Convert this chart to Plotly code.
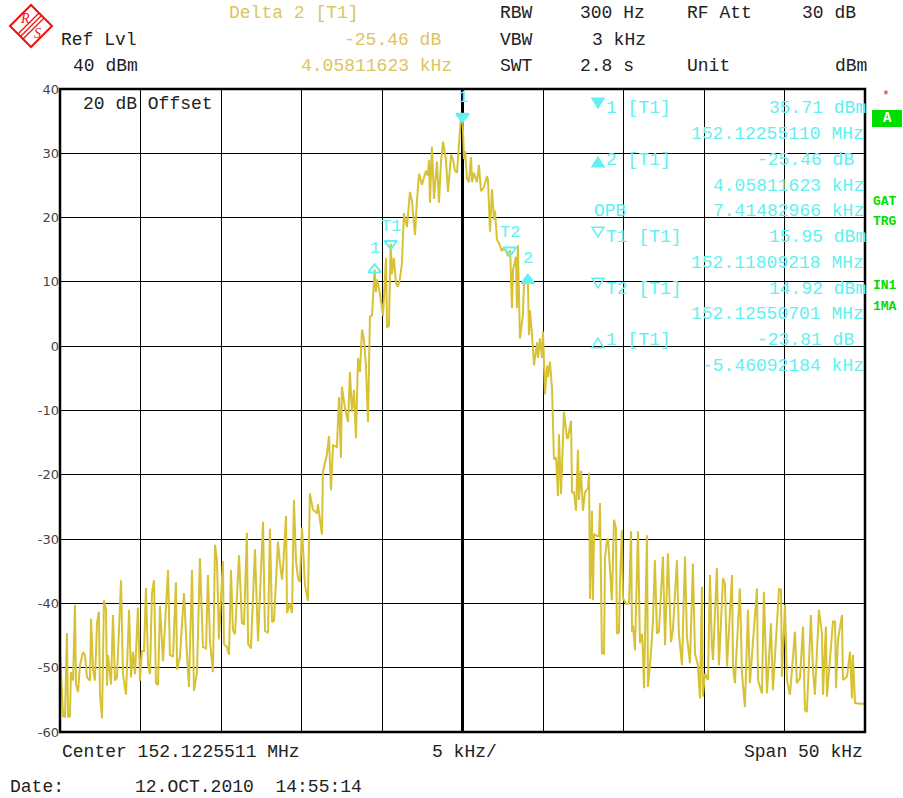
import plotly.graph_objects as go

# ---------------- data ----------------
# trace: frequency offset from center (kHz) and level (dBm)
freq_khz = [
    -25.00, -24.94, -24.81, -24.69, -24.57, -24.50, -24.38, -24.32, -24.19, -24.07,
    -24.01, -23.88, -23.76, -23.57, -23.45, -23.32, -23.14, -23.07, -22.95, -22.83,
    -22.70, -22.58, -22.52, -22.39, -22.27, -22.14, -22.08, -22.02, -21.83, -21.71,
    -21.58, -21.46, -21.21, -21.09, -20.90, -20.71, -20.59, -20.47, -20.34, -20.16,
    -20.03, -19.91, -19.78, -19.66, -19.53, -19.41, -19.29, -19.16, -19.04, -18.91,
    -18.79, -18.60, -18.29, -18.17, -17.98, -17.80, -17.73, -17.55, -17.30, -17.11,
    -16.99, -16.80, -16.68, -16.49, -16.31, -16.12, -15.93, -15.81, -15.68, -15.50,
    -15.37, -15.25, -15.13, -14.88, -14.82, -14.63, -14.50, -14.38, -14.26, -14.13,
    -13.88, -13.70, -13.57, -13.39, -13.32, -13.14, -12.89, -12.70, -12.39, -12.27,
    -12.08, -11.96, -11.83, -11.71, -11.46, -11.34, -11.21, -11.15, -10.96, -10.90,
    -10.72, -10.59, -10.47, -10.34, -10.22, -10.10, -9.97, -9.85, -9.79, -9.60,
    -9.48, -9.29, -9.04, -8.98, -8.73, -8.67, -8.42, -8.29, -8.17, -8.04,
    -7.80, -7.67, -7.55, -7.49, -7.30, -7.11, -6.99, -6.87, -6.74, -6.62,
    -6.49, -6.37, -6.24, -6.12, -6.00, -5.87, -5.75, -5.62, -5.46, -5.38,
    -5.31, -5.13, -4.94, -4.75, -4.69, -4.57, -4.46, -4.38, -4.26, -4.13,
    -4.01, -3.89, -3.76, -3.64, -3.45, -3.39, -3.26, -3.14, -3.01, -2.95,
    -2.83, -2.70, -2.52, -2.27, -2.15, -2.08, -2.02, -1.90, -1.77, -1.59,
    -1.46, -1.34, -1.21, -1.03, -0.90, -0.71, -0.59, -0.47, -0.34, -0.22,
    -0.09, 0.00, 0.09, 0.16, 0.28, 0.40, 0.53, 0.59, 0.71, 0.90,
    1.02, 1.15, 1.33, 1.52, 1.58, 1.71, 1.77, 1.83, 1.96, 2.02,
    2.14, 2.27, 2.45, 2.58, 2.76, 2.82, 2.96, 3.07, 3.14, 3.32,
    3.38, 3.44, 3.57, 3.75, 3.82, 4.06, 4.13, 4.19, 4.32, 4.44,
    4.63, 4.69, 4.81, 4.94, 5.00, 5.12, 5.25, 5.31, 5.43, 5.56,
    5.68, 5.81, 5.93, 5.99, 6.12, 6.24, 6.30, 6.49, 6.55, 6.74,
    6.80, 6.92, 7.05, 7.17, 7.23, 7.36, 7.48, 7.61, 7.79, 7.86,
    7.92, 8.04, 8.10, 8.17, 8.35, 8.48, 8.54, 8.66, 8.79, 8.85,
    8.97, 9.04, 9.16, 9.28, 9.41, 9.53, 9.59, 9.72, 9.78, 9.90,
    9.97, 10.15, 10.34, 10.47, 10.53, 10.59, 10.71, 10.90, 11.02, 11.15,
    11.21, 11.27, 11.46, 11.52, 11.71, 11.83, 11.95, 12.08, 12.20, 12.39,
    12.45, 12.58, 12.76, 12.95, 13.07, 13.32, 13.44, 13.63, 13.82, 13.94,
    14.13, 14.31, 14.44, 14.62, 14.75, 14.87, 14.93, 15.06, 15.25, 15.37,
    15.49, 15.56, 15.80, 15.93, 16.18, 16.30, 16.43, 16.74, 16.80, 16.92,
    17.23, 17.36, 17.54, 17.73, 17.85, 18.29, 18.35, 18.60, 18.72, 18.91,
    19.16, 19.28, 19.66, 19.78, 19.84, 20.03, 20.15, 20.34, 20.65, 20.77,
    20.96, 21.15, 21.27, 21.39, 21.64, 21.77, 21.89, 22.14, 22.33, 22.39,
    22.57, 22.64, 22.82, 23.01, 23.14, 23.20, 23.32, 23.57, 23.63, 23.88,
    24.07, 24.19, 24.25, 24.38, 24.69, 25.00,
]
level_dbm = [
    -47.3, -51.5, -57.5, -57.7, -44.6, -57.7, -57.5, -50.7, -52.0, -40.2,
    -52.5, -53.8, -49.6, -47.6, -48.0, -51.5, -52.0, -42.4, -50.3, -52.0,
    -43.0, -41.3, -54.0, -57.9, -39.5, -41.0, -52.8, -48.0, -52.6, -41.8,
    -52.0, -51.5, -36.4, -51.0, -54.2, -41.0, -51.5, -47.5, -51.0, -40.7,
    -52.0, -47.4, -47.4, -37.6, -49.6, -51.0, -38.4, -36.4, -52.4, -52.7,
    -40.4, -49.0, -34.8, -48.0, -48.3, -36.7, -50.3, -48.3, -38.4, -48.0,
    -53.0, -34.8, -53.6, -50.7, -33.0, -46.8, -47.0, -35.6, -46.0, -50.7,
    -30.9, -33.4, -45.6, -33.4, -46.3, -46.8, -48.0, -34.8, -44.1, -44.8,
    -32.5, -43.0, -43.3, -29.0, -46.3, -47.0, -31.6, -45.9, -27.3, -44.3,
    -44.6, -28.4, -42.9, -42.7, -30.4, -33.7, -36.3, -34.5, -26.4, -41.5,
    -40.0, -41.5, -23.9, -33.5, -36.0, -36.7, -28.2, -34.0, -37.1, -39.6,
    -22.9, -25.4, -26.0, -24.6, -29.3, -19.6, -16.8, -14.0, -22.4, -15.4,
    -15.7, -7.9, -17.4, -6.3, -9.6, -11.8, -4.0, -10.2, -6.8, -14.3,
    -1.8, -4.0, 2.6, 1.0, -3.0, -11.8, 4.6, 4.8, 11.9, 8.4,
    10.4, 8.2, 4.8, 13.7, 2.9, 3.2, 15.95, 11.2, 13.7, 9.8,
    9.3, 10.4, 12.9, 20.7, 18.5, 20.4, 24.0, 22.5, 18.7, 17.3,
    22.6, 26.8, 25.1, 27.3, 26.5, 29.0, 22.3, 31.0, 22.9, 28.7,
    22.3, 28.5, 31.8, 29.0, 24.0, 29.8, 29.0, 27.3, 27.0, 30.7,
    36.0, 35.71, 29.1, 30.3, 26.1, 25.5, 29.4, 25.5, 27.0, 25.5,
    28.2, 24.1, 24.7, 26.4, 26.0, 17.8, 21.7, 24.4, 19.6, 21.1,
    16.6, 16.0, 14.8, 15.4, 14.5, 14.0, 14.92, 5.9, 11.9, 13.9,
    5.9, 15.7, 1.2, 4.7, 9.6, 10.25, 1.7, 5.6, 1.7, -3.0,
    0.6, -1.8, 1.2, -1.8, 2.3, -7.5, -3.0, -4.8, -2.4, -6.6,
    -17.6, -17.3, -23.3, -13.7, -23.0, -13.7, -10.2, -14.3, -14.3, -11.6,
    -22.7, -22.7, -25.6, -16.1, -23.9, -19.4, -25.6, -22.7, -22.1, -19.7,
    -39.3, -25.6, -39.5, -29.2, -29.5, -29.5, -24.4, -47.7, -47.8, -33.0,
    -30.2, -29.9, -34.3, -39.5, -27.0, -28.3, -44.7, -44.5, -36.9, -28.6,
    -39.2, -40.0, -40.0, -28.8, -44.4, -43.4, -47.3, -28.8, -46.2, -44.7,
    -47.8, -53.2, -29.4, -53.0, -47.5, -42.8, -33.3, -44.7, -44.4, -34.3,
    -32.7, -46.5, -32.2, -46.0, -44.1, -33.3, -44.7, -49.6, -32.7, -45.2,
    -49.3, -33.8, -47.8, -49.6, -54.8, -37.4, -54.5, -50.9, -51.9, -35.6,
    -46.7, -48.8, -34.5, -49.6, -36.1, -36.9, -49.8, -35.6, -49.8, -52.4,
    -37.7, -50.9, -56.1, -41.0, -52.4, -37.7, -51.9, -54.0, -38.2, -54.0,
    -43.1, -53.5, -37.7, -37.9, -51.4, -40.2, -51.9, -54.2, -44.4, -52.4,
    -51.6, -43.6, -56.6, -56.9, -41.8, -50.4, -54.2, -41.0, -44.7, -54.2,
    -43.6, -54.5, -48.8, -42.8, -42.8, -53.2, -45.7, -41.8, -51.9, -51.4,
    -47.5, -54.8, -48.0, -55.5, -55.6, -55.6,
]

# markers
marker_names = ["1", "1", "T1", "T2", "2"]
marker_freq_khz = [0.00, -5.46, -4.46, 2.96, 4.06]
marker_level_dbm = [35.71, 11.9, 15.95, 14.92, 10.25]
marker_symbols = ["triangle-down", "triangle-up-open", "triangle-down-open",
                  "triangle-down-open", "triangle-up"]
marker_label_shift = [8, 10, 6, 6, 10]

y_ticks = [40, 30, 20, 10, 0, -10, -20, -30, -40, -50, -60]
y_tick_labels = ["40", "30", "20", "10", "0", "-10", "-20", "-30", "-40", "-50", "-60"]

# ---------------- style ----------------
TRACE = "#d6c234"
YEL = "#dcc55c"
CYAN = "#62f0f0"
GREEN = "#00dd00"
MONO = "Liberation Mono"
FS = 18

L, R, T, B = 60, 865, 89, 732
W, H = 903, 798


def px(x):
    return (x - L) / (R - L)


def py(y):
    return (B - y) / (B - T)


fig = go.Figure()
fig.add_trace(go.Scatter(x=freq_khz, y=level_dbm, mode="lines",
                         line=dict(color=TRACE, width=2), hoverinfo="skip",
                         showlegend=False))
fig.add_trace(go.Scatter(x=marker_freq_khz, y=marker_level_dbm, mode="markers",
                         marker=dict(symbol=marker_symbols, size=11, color=CYAN,
                                     line=dict(color=CYAN, width=2)),
                         hoverinfo="skip", showlegend=False, cliponaxis=False))

ann = []
for n, fx, ly, sh in zip(marker_names, marker_freq_khz, marker_level_dbm, marker_label_shift):
    ann.append(dict(x=fx, y=ly, xref="x", yref="y", text=n, showarrow=False,
                    yshift=sh, yanchor="bottom", font=dict(family=MONO, size=FS - 1, color=CYAN)))


def txt(s, x, y, anchor="left", color="#222", size=FS, family=MONO):
    ann.append(dict(x=px(x), y=py(y), xref="paper", yref="paper", text=s,
                    showarrow=False, xanchor=anchor, yanchor="middle",
                    font=dict(family=family, size=size, color=color)))


# header
txt("Delta 2 [T1]", 227, 13, color=YEL)
txt("Ref Lvl", 59, 40)
txt("-25.46 dB", 443, 40, "right", YEL)
txt("40 dBm", 71, 66)
txt("4.05811623 kHz", 454, 66, "right", YEL)
txt("RBW", 498, 13)
txt("300 Hz", 578, 13)
txt("RF Att", 685, 13)
txt("30 dB", 858, 13, "right")
txt("VBW", 498, 40)
txt("3 kHz", 590, 40)
txt("SWT", 498, 66)
txt("2.8 s", 578, 66)
txt("Unit", 685, 66)
txt("dBm", 869, 66, "right")

# in-plot texts
txt("20 dB Offset", 81, 104)
txt("1 [T1]", 604, 108, color=CYAN)
txt("35.71 dBm", 868, 108, "right", CYAN)
txt("152.12255110 MHz", 866, 134, "right", CYAN)
txt("2 [T1]", 604, 160, color=CYAN)
txt("-25.46 dB", 856, 160, "right", CYAN)
txt("4.05811623 kHz", 866, 186, "right", CYAN)
txt("OPB", 592, 211, color=CYAN)
txt("7.41482966 kHz", 866, 211, "right", CYAN)
txt("T1 [T1]", 604, 237, color=CYAN)
txt("15.95 dBm", 868, 237, "right", CYAN)
txt("152.11809218 MHz", 866, 263, "right", CYAN)
txt("T2 [T1]", 604, 289, color=CYAN)
txt("14.92 dBm", 868, 289, "right", CYAN)
txt("152.12550701 MHz", 866, 314, "right", CYAN)
txt("1 [T1]", 604, 340, color=CYAN)
txt("-23.81 dB", 856, 340, "right", CYAN)
txt("-5.46092184 kHz", 866, 366, "right", CYAN)

# right side status
txt("*", 886, 96, "center", "#ee1111", 13)
txt("<b>GAT</b>", 871, 201, color=GREEN, size=13)
txt("<b>TRG</b>", 871, 222, color=GREEN, size=13)
txt("<b>IN1</b>", 871, 285, color=GREEN, size=13)
txt("<b>1MA</b>", 871, 306, color=GREEN, size=13)
txt("<b>A</b>", 887, 118, "center", "white", 14)

# footer
txt("Center 152.1225511 MHz", 60, 752)
txt("5 kHz/", 430, 752)
txt("Span 50 kHz", 865, 752, "right")
txt("Date:", 8, 787)
txt("12.OCT.2010  14:55:14", 133, 787)

# logo texts
txt("<i>R</i>", 25, 19, "center", "#ee1111", 14, "Liberation Serif")
txt("<i>S</i>", 37, 34, "center", "#ee1111", 14, "Liberation Serif")

shapes = []
# green box
shapes.append(dict(type="rect", xref="paper", yref="paper", x0=px(872), x1=px(902),
                   y0=py(127), y1=py(110), fillcolor=GREEN, line=dict(width=0), layer="below"))


def tri(cx, cy, down, filled):
    s = 6
    if down:
        p = [(cx - s, cy - s * 0.8), (cx + s, cy - s * 0.8), (cx, cy + s * 0.8)]
    else:
        p = [(cx - s, cy + s * 0.8), (cx + s, cy + s * 0.8), (cx, cy - s * 0.8)]
    path = "M " + " L ".join(f"{px(a):.5f},{py(b):.5f}" for a, b in p) + " Z"
    shapes.append(dict(type="path", xref="paper", yref="paper", path=path,
                       fillcolor=CYAN if filled else "rgba(0,0,0,0)",
                       line=dict(color=CYAN, width=1.5)))


# marker legend icons
tri(598, 103, True, True)
tri(598, 162, False, True)
tri(598, 232, True, False)
tri(598, 283, True, False)
tri(598, 343, False, False)

# logo diamond
pts = [(10, 26), (31, 5), (52, 26), (31, 47)]
path = "M " + " L ".join(f"{px(a):.5f},{py(b):.5f}" for a, b in pts) + " Z"
shapes.append(dict(type="path", xref="paper", yref="paper", path=path,
                   line=dict(color="#ee1111", width=2)))
for o in (-2.5, 0, 2.5):
    shapes.append(dict(type="line", xref="paper", yref="paper",
                       x0=px(20.5 + o), y0=py(36.5 + o), x1=px(41.5 + o), y1=py(15.5 + o),
                       line=dict(color="#ee1111", width=1.2)))
# plot frame
shapes.append(dict(type="rect", xref="paper", yref="paper", x0=0, x1=1, y0=0, y1=1,
                   line=dict(color="black", width=2.5)))

fig.update_layout(
    width=W, height=H,
    margin=dict(l=L, r=W - R, t=T, b=H - B),
    paper_bgcolor="white", plot_bgcolor="white",
    showlegend=False,
    annotations=ann, shapes=shapes,
    xaxis=dict(range=[-25, 25], dtick=5, tick0=-25, showgrid=True, gridcolor="black",
               gridwidth=1, zeroline=True, zerolinecolor="black", zerolinewidth=2.5,
               showticklabels=False, ticks="", fixedrange=True),
    yaxis=dict(range=[-60, 40], tickvals=y_ticks, ticktext=y_tick_labels,
               showgrid=True, gridcolor="black", gridwidth=1, zeroline=False,
               ticks="", tickfont=dict(family="DejaVu Sans", size=13, color="#444"),
               fixedrange=True),
)

fig.write_html("out.html", config={"displayModeBar": False},
               post_script="document.body.style.margin='0px';document.body.style.padding='0px';")
